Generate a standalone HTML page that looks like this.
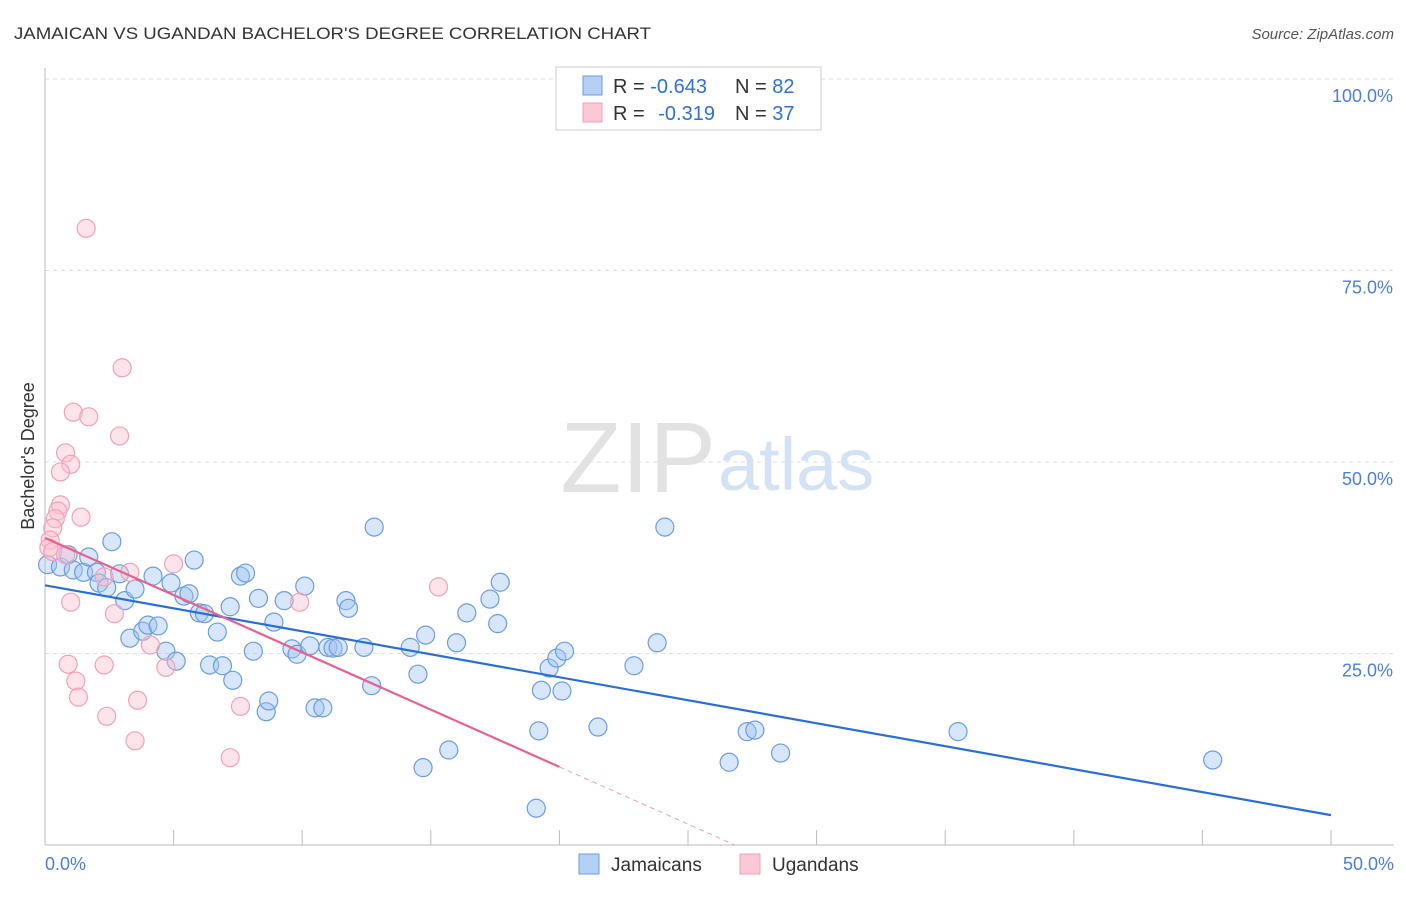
<!DOCTYPE html>
<html><head><meta charset="utf-8"><style>
body{margin:0;background:#fff;font-family:"Liberation Sans",sans-serif;}
svg text{font-family:"Liberation Sans",sans-serif;}
</style></head><body>
<svg id="chart" width="1406" height="892">
<text x="14" y="39" font-size="17" fill="#333" textLength="637" lengthAdjust="spacingAndGlyphs">JAMAICAN VS UGANDAN BACHELOR'S DEGREE CORRELATION CHART</text>
<text x="1394" y="39" font-size="15" fill="#555" text-anchor="end" font-style="italic">Source: ZipAtlas.com</text>
<g id="grid"></g>
<text x="716" y="492" font-size="100" fill="#e2e2e2" text-anchor="end" font-family="Liberation Serif">ZIP</text>
<text x="718" y="490" font-size="74" fill="#d4e2f5">atlas</text>
<g id="axes"></g>
<g id="pts"></g>
<g id="lines"></g>
<text transform="translate(34,456) rotate(-90)" font-size="18" fill="#333" text-anchor="middle">Bachelor's Degree</text>
<g>
<rect x="556" y="67" width="265" height="63" fill="#fff" stroke="#ccc"/>
<rect x="583" y="76" width="19" height="19" fill="#b4d0f4" stroke="#6a9de0"/>
<rect x="583" y="103" width="19" height="19" fill="#fbc8d6" stroke="#f0a0b8"/>
<text x="613" y="93" font-size="20" fill="#333">R = <tspan fill="#2f6fd6">-0.643</tspan><tspan x="735">N = </tspan><tspan fill="#2f6fd6">82</tspan></text>
<text x="613" y="120" font-size="20" fill="#333">R = <tspan fill="#2f6fd6" dx="8">-0.319</tspan><tspan x="735">N = </tspan><tspan fill="#2f6fd6">37</tspan></text>
</g>
<g>
<rect x="579" y="854" width="20" height="20" fill="#b4d0f4" stroke="#6a9de0"/>
<text x="611" y="871" font-size="19" fill="#333">Jamaicans</text>
<rect x="740" y="854" width="20" height="20" fill="#fbc8d6" stroke="#f0a0b8"/>
<text x="772" y="871" font-size="19" fill="#333">Ugandans</text>
</g>
</svg>
<script>
const blueX=[0.1,0.6,0.9,1.1,1.5,2.0,1.7,2.6,2.1,2.4,2.9,3.1,3.3,3.5,3.8,4.0,4.2,4.4,4.7,4.9,5.1,5.4,5.6,5.8,6.0,6.2,6.4,6.7,6.9,7.2,7.3,7.6,7.8,8.1,8.3,8.6,8.7,8.9,9.3,9.6,9.8,10.1,10.3,10.5,10.8,11.0,11.2,11.4,11.7,11.8,12.4,12.7,12.8,14.2,14.5,14.7,14.8,15.7,16.0,16.4,17.3,17.6,17.7,19.1,19.2,19.3,19.6,19.9,20.1,20.2,21.5,22.9,23.8,24.1,26.6,27.3,27.6,28.6,35.5,45.4];
const blueY=[36.6,36.3,37.9,35.9,35.6,35.6,37.6,39.6,34.2,33.6,35.4,31.9,27.0,33.4,27.9,28.7,35.1,28.6,25.3,34.2,24.0,32.5,32.8,37.2,30.3,30.2,23.5,27.8,23.4,31.1,21.5,35.1,35.5,25.3,32.2,17.4,18.8,29.1,31.9,25.6,24.9,33.8,26.0,17.9,17.9,25.8,25.7,25.8,31.9,30.9,25.8,20.8,41.5,25.8,22.3,10.1,27.4,12.4,26.4,30.3,32.1,28.9,34.3,4.8,14.9,20.2,23.1,24.4,20.1,25.3,15.4,23.4,26.4,41.5,10.8,14.8,15.0,12.0,14.8,11.1];
const pinkX=[1.6,3.0,1.1,1.7,2.9,0.8,1.0,0.6,0.6,0.5,0.4,1.4,0.3,0.2,0.15,0.3,0.8,2.3,3.3,5.0,2.7,1.0,9.9,15.3,4.1,0.9,2.3,4.7,1.2,1.3,3.6,7.6,2.4,3.5,7.2];
const pinkY=[80.5,62.3,56.5,55.9,53.4,51.2,49.7,48.7,44.4,43.6,42.6,42.8,41.4,39.8,38.8,38.3,37.9,35.0,35.6,36.7,30.2,31.7,31.7,33.7,26.1,23.6,23.5,23.2,21.4,19.3,18.9,18.1,16.8,13.6,11.4];
const blueTrend=[33.9,3.9];
const pinkTrend=[40.1,10.2];
const yTicks=[25,50,75,100];
const xTickLabels=["0.0%","50.0%"];
const NS="http://www.w3.org/2000/svg";
const X=v=>45+v*25.72, Y=v=>845-v*7.66;
function mk(t,a,p){const e=document.createElementNS(NS,t);for(const k in a)e.setAttribute(k,a[k]);p.appendChild(e);return e;}
const grid=document.getElementById('grid'),axes=document.getElementById('axes');
yTicks.forEach(t=>{
 const l=mk('line',{x1:45,x2:1394,y1:Y(t),y2:Y(t),stroke:'#ddd','stroke-dasharray':'4,4'},grid);
 
 
 const tx=mk('text',{x:1393,y:Y(t)+23,'font-size':18,fill:'#4a7fd6','text-anchor':'end'},axes);
 tx.textContent=t.toFixed(1)+'%';
 
 
});
mk('line',{x1:45,x2:45,y1:68,y2:845,stroke:'#bbb'},axes);
mk('line',{x1:45,x2:1394,y1:845,y2:845,stroke:'#bbb'},axes);
for(let i=0;i<=10;i++){const t=mk('line',{x1:X(i*5),x2:X(i*5),y1:830,y2:845,stroke:'#bbb'},axes);
 
 }
[[0,'start',45],[50,'end',1394]].forEach((d,i)=>{const t=mk('text',{x:d[2],y:870,'font-size':18,fill:'#4a7fd6','text-anchor':d[1]},axes);t.textContent=xTickLabels[i];
 
 });
const pts=document.getElementById('pts');
blueX.forEach((v,i)=>{const c=mk('circle',{cx:X(v),cy:Y(blueY[i]),r:9,fill:'rgba(160,196,240,0.42)',stroke:'#6a9de0','stroke-width':1.2},pts);
 
 });
pinkX.forEach((v,i)=>{const c=mk('circle',{cx:X(v),cy:Y(pinkY[i]),r:9,fill:'rgba(250,190,208,0.42)',stroke:'#f0a0b8','stroke-width':1.2},pts);
 
 });
const lines=document.getElementById('lines');
const bl=mk('line',{x1:X(0),y1:Y(blueTrend[0]),x2:X(50),y2:Y(blueTrend[1]),stroke:'#2a6fd8','stroke-width':2.2},lines);


const s=(pinkTrend[0]-pinkTrend[1])/20, xz=pinkTrend[0]/s;
const pl=mk('line',{x1:X(0),y1:Y(pinkTrend[0]),x2:X(20),y2:Y(pinkTrend[1]),stroke:'#e8608c','stroke-width':2.2},lines);


const pd=mk('line',{x1:X(20),y1:Y(pinkTrend[1]),x2:X(xz),y2:Y(0),stroke:'#e8a0b8','stroke-width':1,'stroke-dasharray':'5,4'},lines);


</script>
</body></html>
